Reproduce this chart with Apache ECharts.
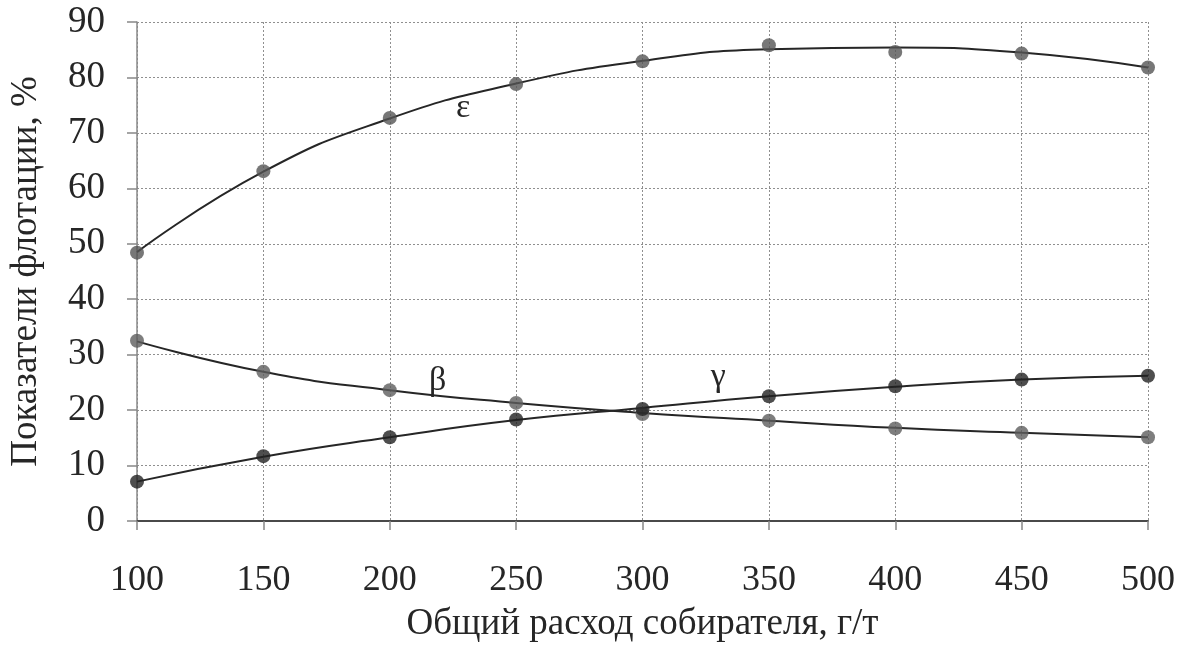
<!DOCTYPE html>
<html>
<head>
<meta charset="utf-8">
<script src="https://cdn.jsdelivr.net/npm/echarts@6/dist/echarts.min.js"></script>
<style>
html,body{margin:0;padding:0;background:#fff;}
#chart{width:1189px;height:648px;}
</style>
</head>
<body>
<div id="chart"></div>
<script>
// Data
const xValues = [100, 150, 200, 250, 300, 350, 400, 450, 500];
const epsPoints = [48.4, 63.1, 72.7, 78.8, 82.9, 85.8, 84.6, 84.3, 81.8];
const epsTrend  = [48.5, 63.0, 72.6, 78.9, 83.0, 85.1, 85.4, 84.5, 81.8];
const betaPoints = [32.5, 26.9, 23.6, 21.3, 19.3, 18.1, 16.7, 15.9, 15.1];
const betaTrend  = [32.4, 26.9, 23.6, 21.3, 19.5, 18.1, 16.8, 15.9, 15.1];
const gammaPoints = [7.1, 11.7, 15.1, 18.3, 20.2, 22.5, 24.3, 25.5, 26.2];
const gammaTrend  = [7.1, 11.6, 15.1, 18.2, 20.4, 22.5, 24.2, 25.5, 26.2];
const curveLabels = [
  { name: 'ε', x: 229, y: 74.5 },
  { name: 'β', x: 219, y: 25.3 },
  { name: 'γ', x: 330, y: 26.0 }
];
const xTicks = [100, 150, 200, 250, 300, 350, 400, 450, 500];
const yTicks = [0, 10, 20, 30, 40, 50, 60, 70, 80, 90];
const xName = 'Общий расход собирателя, г/т';
const yName = 'Показатели флотации, %';

const pair = (arr) => xValues.map((x, i) => [x, arr[i]]);
const FONT = '"Liberation Serif", "DejaVu Serif", serif';
const TXT = '#262626';

function trend(arr) {
  return { type: 'line', data: pair(arr), smooth: 0.5, showSymbol: false, symbol: 'none',
    lineStyle: { color: '#262626', width: 2 }, z: 2, silent: true };
}
function pts(arr, color) {
  return { type: 'scatter', data: pair(arr), symbol: 'circle', symbolSize: 14,
    itemStyle: { color: color }, z: 3 };
}

const chart = echarts.init(document.getElementById('chart'), null, { renderer: 'canvas' });
chart.setOption({
  animation: false,
  backgroundColor: '#fff',
  grid: { left: 137, right: 41, top: 22, bottom: 120, containLabel: false },
  xAxis: {
    type: 'value', min: 100, max: 500, interval: 50,
    name: xName, nameLocation: 'middle', nameGap: 85,
    nameTextStyle: { fontFamily: FONT, fontSize: 37, color: TXT },
    axisLine: { show: true, lineStyle: { color: '#4a4a4a', width: 2 } },
    axisTick: { show: true, length: 9, lineStyle: { color: '#888', width: 1.5 } },
    axisLabel: { fontFamily: FONT, fontSize: 36, color: TXT, margin: 42,
      formatter: (v) => xTicks.includes(v) ? String(v) : '' },
    splitLine: { show: true, lineStyle: { color: '#8f8f8f', width: 1, type: [2, 2] } }
  },
  yAxis: {
    type: 'value', min: 0, max: 90, interval: 10,
    name: yName, nameLocation: 'middle', nameGap: 92,
    nameTextStyle: { fontFamily: FONT, fontSize: 37, color: TXT },
    axisLine: { show: true, lineStyle: { color: '#8a8a8a', width: 1.5 } },
    axisTick: { show: true, length: 10, lineStyle: { color: '#888', width: 1.5 } },
    axisLabel: { fontFamily: FONT, fontSize: 37, color: TXT, margin: 32,
      formatter: (v) => yTicks.includes(v) ? String(v) : '' },
    splitLine: { show: true, lineStyle: { color: '#8f8f8f', width: 1, type: [2, 2] } }
  },
  series: [
    Object.assign(trend(epsTrend), {
      markPoint: {
        symbol: 'circle', symbolSize: 0, silent: true,
        label: { show: true, position: 'inside', fontFamily: FONT, fontSize: 34, color: TXT,
          formatter: (p) => p.name },
        data: curveLabels.map(l => ({ name: l.name, coord: [l.x, l.y] }))
      }
    }),
    trend(betaTrend),
    trend(gammaTrend),
    pts(epsPoints, '#555'),
    pts(betaPoints, '#5e5e5e'),
    pts(gammaPoints, '#222')
  ]
});
</script>
</body>
</html>
